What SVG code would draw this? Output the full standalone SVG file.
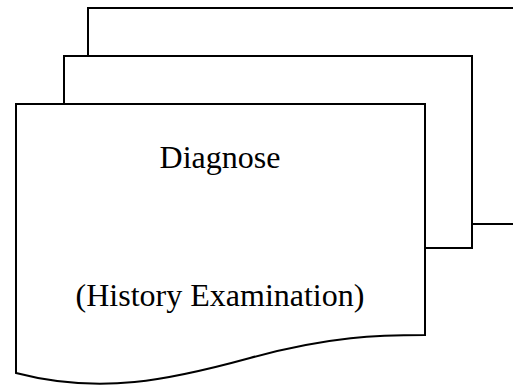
<svg xmlns="http://www.w3.org/2000/svg" width="513" height="387" viewBox="0 0 513 387">
<style>
.s{fill:#fff;stroke:#000;stroke-width:2}
.t{font-family:"Liberation Serif","Times New Roman",serif;font-size:32px;fill:#000;text-anchor:middle}
</style>
<rect width="513" height="387" fill="#fff"/>
<g id="doc-back"><rect class="s" x="88" y="8" width="440" height="216"/></g>
<g id="doc-middle"><rect class="s" x="64" y="56" width="408" height="192"/></g>
<g id="doc-front">
<path class="s" d="M16,104 H425 V335 C380,335 330,336 250,358 C170,380 100,395 16,373 Z"/>
<text class="t" x="220" y="168">Diagnose</text>
<text class="t" x="220" y="306">(History Examination)</text>
</g>
<g id="connectors"></g>
</svg>
